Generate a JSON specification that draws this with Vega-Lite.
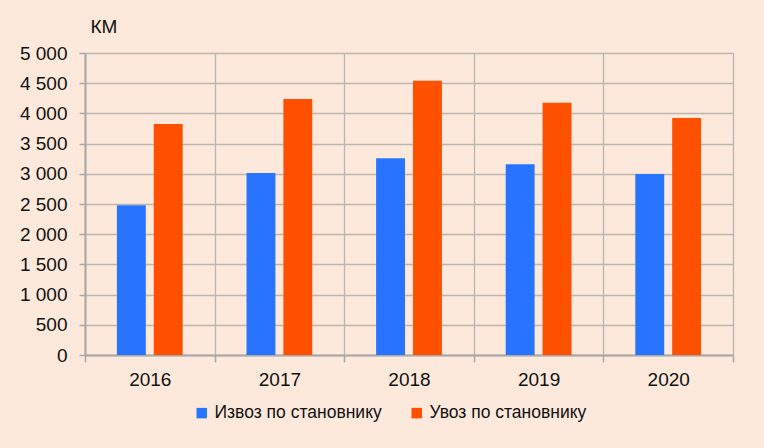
{
  "$schema": "https://vega.github.io/schema/vega-lite/v6.json",
  "width": 648,
  "height": 302,
  "autosize": "none",
  "padding": {"left": 85, "top": 53, "right": 31, "bottom": 93},
  "background": "#FCE9DB",
  "config": {
    "view": {"stroke": null},
    "font": "Liberation Sans Narrow, Arial Narrow, Liberation Sans, sans-serif"
  },
  "data": {
    "values": [
      {"year": "2016", "series": "Извоз по становнику", "value": 2480},
      {"year": "2016", "series": "Увоз по становнику", "value": 3825},
      {"year": "2017", "series": "Извоз по становнику", "value": 3015},
      {"year": "2017", "series": "Увоз по становнику", "value": 4240},
      {"year": "2018", "series": "Извоз по становнику", "value": 3257},
      {"year": "2018", "series": "Увоз по становнику", "value": 4541},
      {"year": "2019", "series": "Извоз по становнику", "value": 3157},
      {"year": "2019", "series": "Увоз по становнику", "value": 4178},
      {"year": "2020", "series": "Извоз по становнику", "value": 2997},
      {"year": "2020", "series": "Увоз по становнику", "value": 3924}
    ]
  },
  "mark": {"type": "bar"},
  "encoding": {
    "x": {
      "field": "year",
      "type": "nominal",
      "scale": {"paddingInner": 0, "paddingOuter": 0},
      "axis": {
        "title": null,
        "labelAngle": 0,
        "tickBand": "extent",
        "grid": true,
        "gridColor": "#B9B4B0",
        "gridWidth": 1.3,
        "domainColor": "#A8A8A8",
        "domainWidth": 2,
        "tickColor": "#A8A8A8",
        "tickWidth": 1.5,
        "tickSize": 7,
        "labelPadding": 8,
        "labelFontSize": 19,
        "labelColor": "#111111"
      }
    },
    "xOffset": {
      "field": "series",
      "type": "nominal",
      "scale": {"paddingInner": 0.216, "paddingOuter": 0.865}
    },
    "y": {
      "field": "value",
      "type": "quantitative",
      "scale": {"domain": [0, 5000]},
      "axis": {
        "values": [0, 500, 1000, 1500, 2000, 2500, 3000, 3500, 4000, 4500, 5000],
        "labelExpr": "replace(format(datum.value, ','), ',', ' ')",
        "title": "КМ",
        "titleAngle": 0,
        "titleAlign": "left",
        "titleBaseline": "alphabetic",
        "titleX": 5,
        "titleY": -21,
        "titleFontSize": 19,
        "titleFontWeight": "normal",
        "titleColor": "#111111",
        "grid": true,
        "gridColor": "#BDB6B0",
        "gridWidth": 1.3,
        "domainColor": "#A8A8A8",
        "domainWidth": 2,
        "tickColor": "#A8A8A8",
        "tickWidth": 1.5,
        "tickSize": 6,
        "labelPadding": 12,
        "labelFontSize": 19,
        "labelColor": "#111111"
      }
    },
    "color": {
      "field": "series",
      "type": "nominal",
      "scale": {
        "domain": ["Извоз по становнику", "Увоз по становнику"],
        "range": ["#2874FF", "#FF5000"]
      },
      "legend": {
        "title": null,
        "orient": "none",
        "direction": "horizontal",
        "legendX": 108,
        "legendY": 351,
        "symbolType": "square",
        "symbolSize": 110,
        "symbolStrokeWidth": 0,
        "symbolOpacity": 1,
        "labelFontSize": 17.5,
        "labelLimit": 0,
        "labelColor": "#111111",
        "labelOffset": 4,
        "columnPadding": 26
      }
    }
  }
}
